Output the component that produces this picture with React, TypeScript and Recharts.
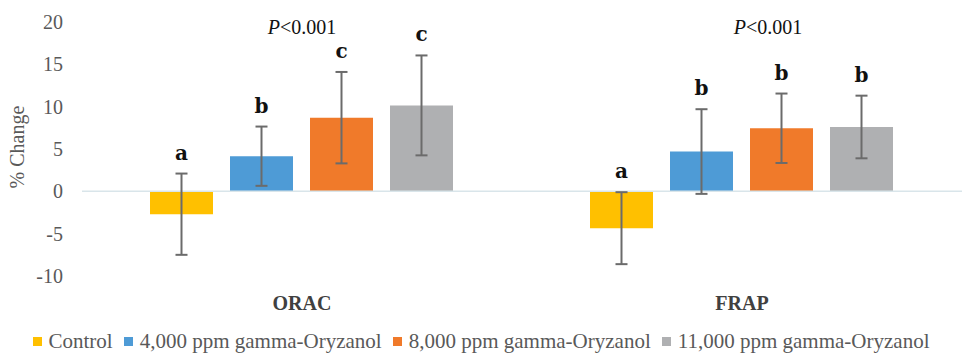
import React from 'react';
import {
  BarChart,
  Bar,
  XAxis,
  YAxis,
  ErrorBar,
  LabelList,
  Legend,
  ReferenceLine,
} from 'recharts';

const categories = ['ORAC', 'FRAP'];
const seriesNames = [
  'Control',
  '4,000 ppm gamma-Oryzanol',
  '8,000 ppm gamma-Oryzanol',
  '11,000 ppm gamma-Oryzanol',
];
const seriesColors = ['#FFC000', '#4E9BD6', '#F07A2A', '#AFB0B2'];

const controlValues = [-2.7, -4.35];
const controlErrors = [4.8, 4.25];
const controlLetters = ['a', 'a'];

const g4000Values = [4.15, 4.7];
const g4000Errors = [3.5, 5.0];
const g4000Letters = ['b', 'b'];

const g8000Values = [8.7, 7.45];
const g8000Errors = [5.4, 4.1];
const g8000Letters = ['c', 'b'];

const g11000Values = [10.15, 7.6];
const g11000Errors = [5.9, 3.7];
const g11000Letters = ['c', 'b'];

const pValueText = ['<0.001', '<0.001'];
const yTicks = [-10, -5, 0, 5, 10, 15, 20];

const seriesValues = [controlValues, g4000Values, g8000Values, g11000Values];
const seriesErrors = [controlErrors, g4000Errors, g8000Errors, g11000Errors];
const seriesLetters = [controlLetters, g4000Letters, g8000Letters, g11000Letters];

const data = categories.map((name, ci) => {
  const row: any = { name };
  seriesValues.forEach((vals, si) => {
    row[`s${si}`] = vals[ci];
    row[`s${si}e`] = seriesErrors[si][ci];
    row[`s${si}l`] = seriesLetters[si][ci];
  });
  return row;
});

const SERIF = '"Liberation Serif", "Times New Roman", serif';
const LETTER_FONT = '"DejaVu Serif", "Liberation Mono", monospace';
const GREY_TEXT = '#595959';
const P_SHIFT = [0, 26];

const makeLetter = (si: number) => (props: any) => {
  const { x, y, width, height, index, value } = props;
  const row = data[index];
  if (!row) return null;
  const mean = row[`s${si}`];
  const err = row[`s${si}e`];
  const k = Math.abs(height) / Math.abs(mean);
  const y1 = y;
  const y2 = y + height;
  const base = mean >= 0 ? Math.max(y1, y2) : Math.min(y1, y2);
  const topPix = base - k * (mean + err);
  return (
    <text
      x={x + width / 2}
      y={topPix - 14}
      textAnchor="middle"
      fontFamily={LETTER_FONT}
      fontWeight="bold"
      fontSize={20}
      fill="#111"
    >
      {value}
    </text>
  );
};

const PLabel = (text: string, shift: number) => (props: any) => {
  const vb = props.viewBox || {};
  return (
    <text
      x={vb.x + shift}
      y={vb.y + 12}
      textAnchor="middle"
      fontFamily={SERIF}
      fontSize={20}
      fill="#111"
    >
      <tspan fontStyle="italic">P</tspan>
      <tspan>{text}</tspan>
    </text>
  );
};

const YLabel = (props: any) => {
  const vb = props.viewBox || {};
  const cx = 24;
  const cy = vb.y + vb.height / 2 - 2;
  return (
    <text
      x={cx}
      y={cy}
      transform={`rotate(-90, ${cx}, ${cy})`}
      textAnchor="middle"
      fontFamily={SERIF}
      fontSize={20}
      fill={GREY_TEXT}
    >
      % Change
    </text>
  );
};

const LegendContent = () => (
  <div
    style={{
      display: 'flex',
      justifyContent: 'center',
      alignItems: 'center',
      fontFamily: SERIF,
      fontSize: 21,
      color: GREY_TEXT,
      whiteSpace: 'nowrap',
    }}
  >
    {seriesNames.map((n, i) => (
      <span key={n} style={{ display: 'inline-flex', alignItems: 'center', marginRight: i < seriesNames.length - 1 ? 11 : 0 }}>
        <span
          style={{
            display: 'inline-block',
            width: 9,
            height: 9,
            background: seriesColors[i],
            marginRight: 7,
          }}
        />
        {n}
      </span>
    ))}
  </div>
);

export default function App() {
  return (
    <div style={{ position: 'absolute', left: 0, top: 0, background: '#fff' }}>
      <BarChart
        width={962}
        height={355}
        data={data}
        margin={{ top: 22, right: 0, left: 0, bottom: 0 }}
        barGap={17}
        barCategoryGap={68}
      >
        <XAxis
          dataKey="name"
          axisLine={false}
          tickLine={false}
          tickMargin={14}
          height={53}
          tick={{ fontFamily: SERIF, fontSize: 20, fontWeight: 'bold', fill: '#404040' }}
        />
        <YAxis
          domain={[-10, 20]}
          ticks={yTicks}
          axisLine={false}
          tickLine={false}
          tickMargin={13}
          width={82}
          tick={{ fontFamily: SERIF, fontSize: 20, fill: GREY_TEXT }}
          label={<YLabel />}
        />
        <ReferenceLine y={0} stroke="#D9E5EA" strokeWidth={1.5} />
        {categories.map((c, i) => (
          <ReferenceLine
            key={c}
            x={c}
            stroke="none"
            strokeOpacity={0}
            label={PLabel(pValueText[i], P_SHIFT[i])}
          />
        ))}
        {seriesNames.map((n, si) => (
          <Bar
            key={n}
            dataKey={`s${si}`}
            name={n}
            fill={seriesColors[si]}
            isAnimationActive={false}
          >
            <ErrorBar dataKey={`s${si}e`} width={6} stroke="#6B6B6B" strokeWidth={2} direction="y" />
            <LabelList dataKey={`s${si}l`} content={makeLetter(si)} />
          </Bar>
        ))}
        <Legend verticalAlign="bottom" align="center" height={26} content={<LegendContent />} />
      </BarChart>
    </div>
  );
}
